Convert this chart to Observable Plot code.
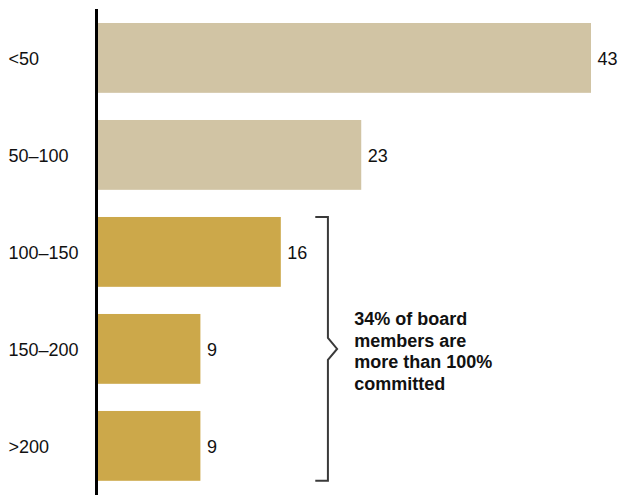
<!DOCTYPE html>
<html>
<head>
<meta charset="utf-8">
<script src="https://cdn.jsdelivr.net/npm/d3@7"></script>
<script src="https://cdn.jsdelivr.net/npm/@observablehq/plot@0.6"></script>
<style>
  html, body { margin: 0; padding: 0; background: #fff; }
  #chart { width: 618px; height: 495px; }
</style>
</head>
<body>
<div id="chart"></div>
<script>
const categories = ["<50", "50–100", "100–150", "150–200", ">200"];
const values = [43, 23, 16, 9, 9];
const groups = ["low", "low", "high", "high", "high"];
const annotationText = "34% of board\nmembers are\nmore than 100%\ncommitted";
const bracketCategories = ["100–150", ">200"];
const bracketX = { tick: 19.0, spine: 20.1, point: 20.9 };
const annotationX = 22.35;

const data = categories.map((c, i) => ({ cat: c, value: values[i], group: groups[i] }));

const font = "Liberation Sans, Arial, sans-serif";

const bracket = (index, scales, values, dimensions, context) => {
  const x = scales.x, y = scales.y;
  const top = y(bracketCategories[0]);
  const bottom = y(bracketCategories[1]) + y.bandwidth();
  const mid = (top + bottom) / 2;
  const xt = x(bracketX.tick), xs = x(bracketX.spine), xp = x(bracketX.point);
  const d = `M${xt},${top}H${xs}V${mid - 11}L${xp},${mid}L${xs},${mid + 11}V${bottom}H${xt}`;
  const g = d3.create("svg:g");
  g.append("path").attr("d", d).attr("fill", "none").attr("stroke", "#3a3a3a").attr("stroke-width", 2);
  return g.node();
};

const chart = Plot.plot({
  width: 618,
  height: 495,
  marginLeft: 96,
  marginRight: 27,
  marginTop: 0,
  marginBottom: 0,
  style: { fontFamily: font, background: "#fff" },
  x: { domain: [0, 43], range: [97, 591], axis: null },
  y: { domain: categories, range: [3.6, 500.2], padding: 0.28, paddingOuter: 0.2, round: false, axis: null },
  color: { domain: ["low", "high"], range: ["#d1c4a4", "#cca84a"] },
  marks: [
    Plot.barX(data, { y: "cat", x: "value", fill: "group" }),
    Plot.ruleX([0], { stroke: "#000", strokeWidth: 3, insetTop: 9, dx: -1 }),
    Plot.text(data, { y: "cat", text: "cat", frameAnchor: "left", textAnchor: "start", dx: -88, dy: 1, fontSize: 18, fill: "#111" }),
    Plot.text(data, { y: "cat", x: "value", text: (d) => String(d.value), textAnchor: "start", dx: 6, dy: 1, fontSize: 18, fill: "#111" }),
    bracket,
    Plot.text([annotationText], {
      x: annotationX,
      y: () => "150–200",
      text: (d) => d,
      textAnchor: "start",
      lineAnchor: "middle",
      lineHeight: 1.2,
      fontSize: 18,
      fontWeight: "bold",
      dy: 1,
      fill: "#111"
    })
  ]
});

document.getElementById("chart").appendChild(chart);
</script>
</body>
</html>
